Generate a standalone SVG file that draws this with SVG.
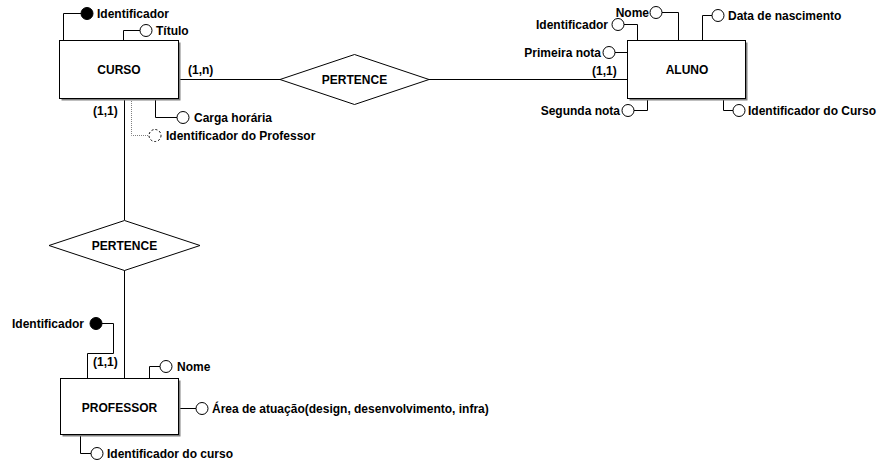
<svg xmlns="http://www.w3.org/2000/svg" width="884" height="464" viewBox="0 0 884 464">
<style>
text{font-family:"Liberation Sans",Arial,sans-serif;font-weight:bold;font-size:12px;fill:#000}
.mid{text-anchor:middle}
.end{text-anchor:end}
.ent{fill:#fff;stroke:#000;stroke-width:1}
.shadow{fill:#808080;stroke:none}
.rel{fill:#fff;stroke:#000;stroke-width:1}
.attr{fill:#fff;stroke:#000;stroke-width:1}
.key{fill:#000;stroke:#000;stroke-width:1}
.opt{fill:#fff;stroke:#000;stroke-width:1;stroke-dasharray:2,2}
.ln{fill:none;stroke:#000;stroke-width:1}
.dot{fill:none;stroke:#808080;stroke-width:1;stroke-dasharray:1,1}
</style>
<rect width="884" height="464" fill="#fff"/>
<g id="connectors">
<path class="ln" d="M179 79.5H280"/>
<path class="ln" d="M429 79.5H628"/>
<path class="ln" d="M124.5 99V220"/>
<path class="ln" d="M124.5 270V378"/>
<path class="ln" d="M63.5 40.5V13.5H81"/>
<path class="ln" d="M123.5 40.5V30.5H140"/>
<path class="ln" d="M155.5 99V117.5H177"/>
<path class="dot" d="M131.5 99V135.5H149"/>
<path class="ln" d="M678.5 40.5V12.5H662"/>
<path class="ln" d="M637.5 40.5V24.5H624"/>
<path class="ln" d="M702.5 40.5V15.5H712"/>
<path class="ln" d="M628 52.5H615"/>
<path class="ln" d="M647.5 99V110.5H634"/>
<path class="ln" d="M723.5 99V110.5H733"/>
<path class="ln" d="M102 323.5H113.5V353.5H87.5V378"/>
<path class="ln" d="M149.5 378V366.5H160"/>
<path class="ln" d="M180 408.5H196"/>
<path class="ln" d="M80.5 435V453.5H91"/>
</g>
<g id="curso">
<rect class="shadow" x="61.5" y="42.5" width="119" height="58"/>
<rect class="ent" x="59.5" y="40.5" width="119" height="58"/>
<text class="mid" x="119" y="74">CURSO</text>
</g>
<g id="aluno">
<rect class="shadow" x="629.5" y="42.5" width="118" height="58"/>
<rect class="ent" x="627.5" y="40.5" width="118" height="58"/>
<text class="mid" x="687" y="74">ALUNO</text>
</g>
<g id="professor">
<rect class="shadow" x="62.5" y="380.5" width="118" height="56"/>
<rect class="ent" x="60.5" y="378.5" width="118" height="56"/>
<text class="mid" x="119.5" y="412">PROFESSOR</text>
</g>
<g id="pertence-curso-aluno">
<polygon class="rel" points="280,79.5 354.5,54.5 429,79.5 354.5,104.5"/>
<text class="mid" x="354.5" y="84">PERTENCE</text>
</g>
<g id="pertence-curso-professor">
<polygon class="rel" points="49,245.5 124.5,220.5 200,245.5 124.5,270.5"/>
<text class="mid" x="124.5" y="250">PERTENCE</text>
</g>
<g id="cardinalities">
<text x="188" y="74">(1,n)</text>
<text x="592" y="75">(1,1)</text>
<text x="93" y="115">(1,1)</text>
<text x="93" y="366">(1,1)</text>
</g>
<g id="curso-identificador"><circle class="key" cx="87" cy="13.5" r="6"/><text x="97" y="18">Identificador</text></g>
<g id="curso-titulo"><circle class="attr" cx="146" cy="30.5" r="6"/><text x="156" y="35">Título</text></g>
<g id="curso-carga"><circle class="attr" cx="183" cy="117.5" r="6"/><text x="194" y="122">Carga horária</text></g>
<g id="curso-idprof"><circle class="opt" cx="155" cy="135.5" r="6"/><text x="166" y="140">Identificador do Professor</text></g>
<g id="aluno-nome"><circle class="attr" cx="656" cy="12.5" r="6"/><text class="end" x="649" y="17">Nome</text></g>
<g id="aluno-identificador"><circle class="attr" cx="618" cy="24.5" r="6"/><text class="end" x="608" y="29">Identificador</text></g>
<g id="aluno-nascimento"><circle class="attr" cx="718" cy="15.5" r="6"/><text x="728" y="20">Data de nascimento</text></g>
<g id="aluno-nota1"><circle class="attr" cx="609" cy="52.5" r="6"/><text class="end" x="601" y="57">Primeira nota</text></g>
<g id="aluno-nota2"><circle class="attr" cx="628" cy="110.5" r="6"/><text class="end" x="620" y="115">Segunda nota</text></g>
<g id="aluno-idcurso"><circle class="attr" cx="739" cy="110.5" r="6"/><text x="748" y="115">Identificador do Curso</text></g>
<g id="prof-identificador"><circle class="key" cx="96" cy="323.5" r="6"/><text class="end" x="84" y="328">Identificador</text></g>
<g id="prof-nome"><circle class="attr" cx="166" cy="366.5" r="6"/><text x="177" y="371">Nome</text></g>
<g id="prof-area"><circle class="attr" cx="202" cy="408.5" r="6"/><text x="212" y="413">Área de atuação(design, desenvolvimento, infra)</text></g>
<g id="prof-idcurso"><circle class="attr" cx="97" cy="453.5" r="6"/><text x="107" y="458">Identificador do curso</text></g>
</svg>
